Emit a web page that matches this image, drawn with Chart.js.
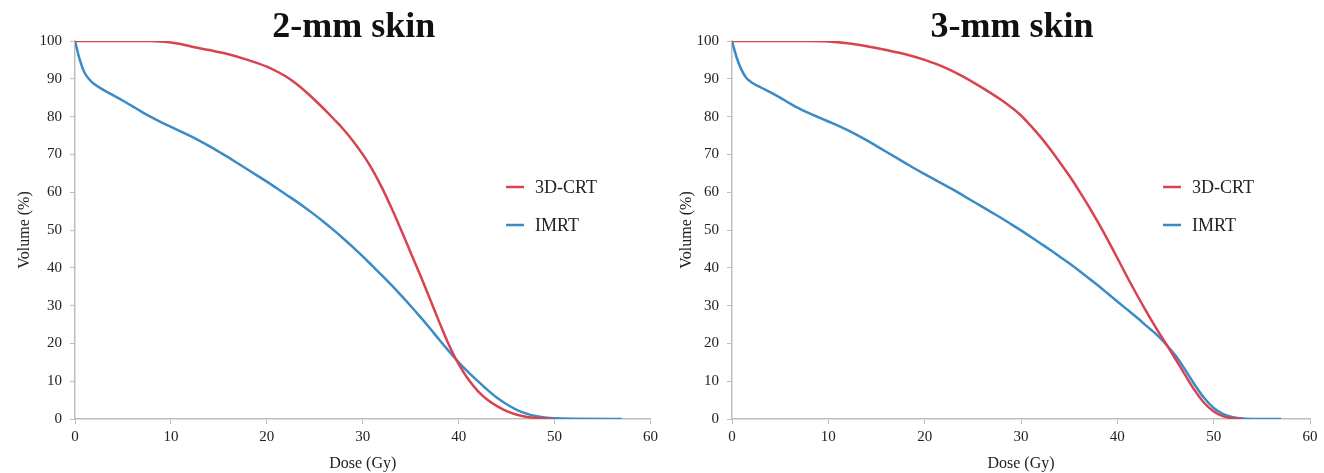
<!DOCTYPE html>
<html>
<head>
<meta charset="utf-8">
<script src="https://cdn.jsdelivr.net/npm/chart.js@4"></script>
<style>
  body { margin: 0; background: #fff; }
  .panel { position: absolute; top: 0; width: 662px; height: 473px; }
</style>
</head>
<body>
<div class="panel" style="left:0"><canvas id="skin2"></canvas></div>
<div class="panel" style="left:662px"><canvas id="skin3"></canvas></div>
<script>
// values (dose in Gy, volume in %)
var panelTitles = ['2-mm skin', '3-mm skin'];
var seriesNames = ['3D-CRT', 'IMRT'];

var dose2mmCrt = [0, 8, 10, 11, 12, 14, 16, 18, 20, 21, 22, 23, 24, 25, 26, 27, 28, 29, 30, 31, 32, 33, 34, 35, 36, 37, 38, 39, 40, 41, 42, 43, 44, 45, 46, 47, 48, 49, 50];
var vol2mmCrt  = [100, 100, 99.6, 99.2, 98.6, 97.6, 96.5, 95, 93.2, 92, 90.6, 88.8, 86.7, 84.4, 81.9, 79.3, 76.6, 73.5, 70, 66, 61.2, 55.8, 50, 44, 38, 31.8, 25.5, 19.5, 14.5, 10.5, 7.4, 5.1, 3.4, 2.1, 1.2, 0.6, 0.3, 0.1, 0];

var dose2mmImrt = [0, 0.5, 1, 1.5, 2, 3, 4, 5, 6, 7, 8, 9, 10, 11, 12, 13, 14, 15, 16, 17, 18, 19, 20, 21, 22, 23, 24, 25, 26, 27, 28, 29, 30, 31, 32, 33, 34, 35, 36, 37, 38, 39, 40, 41, 42, 43, 44, 45, 46, 47, 48, 49, 50, 52, 57];
var vol2mmImrt  = [100, 95, 91.6, 89.8, 88.6, 87, 85.6, 84.2, 82.7, 81.2, 79.8, 78.5, 77.3, 76.1, 74.9, 73.6, 72.2, 70.7, 69.2, 67.6, 66, 64.4, 62.8, 61.1, 59.4, 57.7, 55.9, 54, 52, 49.9, 47.7, 45.4, 43, 40.5, 38, 35.4, 32.7, 29.9, 27, 24, 20.9, 17.9, 15, 12.4, 10, 7.7, 5.6, 3.9, 2.5, 1.5, 0.8, 0.4, 0.2, 0.05, 0];

var dose3mmCrt = [0, 8, 10, 12, 14, 16, 18, 20, 22, 24, 26, 28, 30, 31, 32, 33, 34, 35, 36, 37, 38, 39, 40, 41, 42, 43, 44, 45, 46, 47, 48, 49, 50, 51, 52, 53];
var vol3mmCrt  = [100, 100, 99.9, 99.4, 98.6, 97.6, 96.5, 95, 93.1, 90.6, 87.6, 84.3, 80.3, 77.6, 74.7, 71.5, 68, 64.4, 60.5, 56.4, 52, 47.4, 42.6, 37.7, 33, 28.5, 24.2, 20.1, 16, 11.8, 7.7, 4.3, 2, 0.7, 0.2, 0.04];

var dose3mmImrt = [0, 0.5, 1, 1.5, 2, 3, 4, 5, 6, 7, 8, 9, 10, 11, 12, 13, 14, 15, 16, 17, 18, 19, 20, 21, 22, 23, 24, 25, 26, 27, 28, 29, 30, 31, 32, 33, 34, 35, 36, 37, 38, 39, 40, 41, 42, 43, 44, 45, 46, 47, 48, 49, 50, 51, 52, 53, 54, 57];
var vol3mmImrt  = [100, 95.5, 92.3, 90.2, 89.1, 87.7, 86.4, 85, 83.5, 82.1, 80.9, 79.8, 78.7, 77.6, 76.4, 75.1, 73.7, 72.2, 70.7, 69.2, 67.7, 66.2, 64.8, 63.4, 62, 60.6, 59.1, 57.6, 56.1, 54.6, 53.1, 51.5, 49.9, 48.2, 46.5, 44.8, 43, 41.2, 39.3, 37.3, 35.3, 33.2, 31.1, 29, 26.9, 24.7, 22.5, 19.9, 16.9, 13.2, 9.2, 5.6, 2.9, 1.3, 0.5, 0.12, 0.03, 0];

var RED = '#d8434f';
var BLUE = '#3b8bc6';
var SERIF = '"Liberation Serif", "Times New Roman", serif';

function toPoints(xs, ys) {
  return xs.map(function(x, i) { return {x: x, y: ys[i]}; });
}

// title above the plot + small legend inside the plot area
var panelDecor = {
  id: 'panelDecor',
  afterDraw: function(chart, args, opts) {
    var ctx = chart.ctx, a = chart.chartArea;
    ctx.save();
    ctx.fillStyle = '#111';
    ctx.font = 'bold 36px ' + SERIF;
    ctx.textAlign = 'center';
    ctx.textBaseline = 'alphabetic';
    ctx.fillText(opts.title, (a.left + a.right) / 2 - 9, 37);

    ctx.font = '18px ' + SERIF;
    ctx.textAlign = 'left';
    ctx.textBaseline = 'middle';
    chart.data.datasets.forEach(function(ds, i) {
      var y = 187 + i * 38;
      ctx.strokeStyle = ds.borderColor;
      ctx.lineWidth = 2.5;
      ctx.beginPath();
      ctx.moveTo(a.left + 431, y);
      ctx.lineTo(a.left + 449, y);
      ctx.stroke();
      ctx.fillStyle = '#222';
      ctx.fillText(ds.label, a.left + 460, y + 1);
    });
    ctx.restore();
  }
};

function makeChart(id, title, crt, imrt, yAxisWidth, padRight) {
  var ctx = document.getElementById(id).getContext('2d');
  return new Chart(ctx, {
    type: 'line',
    data: {
      datasets: [{
        label: seriesNames[0],
        data: crt,
        borderColor: RED,
        borderWidth: 2.5,
        pointRadius: 0,
        cubicInterpolationMode: 'monotone'
      }, {
        label: seriesNames[1],
        data: imrt,
        borderColor: BLUE,
        borderWidth: 2.5,
        pointRadius: 0,
        cubicInterpolationMode: 'monotone'
      }]
    },
    options: {
      responsive: true,
      maintainAspectRatio: false,
      animation: false,
      layout: { padding: { top: 41, right: padRight, left: 0, bottom: 0 } },
      plugins: {
        legend: { display: false },
        tooltip: { enabled: false },
        panelDecor: { title: title }
      },
      scales: {
        x: {
          type: 'linear',
          min: 0, max: 60,
          ticks: { stepSize: 10, color: '#222', padding: 4, font: { family: SERIF, size: 15 } },
          grid: { drawOnChartArea: false, tickLength: 5, color: '#bdbdbd' },
          border: { color: '#bdbdbd', width: 1.5 },
          title: { display: true, text: 'Dose (Gy)', color: '#222', padding: 0, font: { family: SERIF, size: 16 } },
          afterFit: function(scale) { scale.height = 54; }
        },
        y: {
          min: 0, max: 100,
          ticks: { stepSize: 10, color: '#222', padding: 8, font: { family: SERIF, size: 15 } },
          grid: { drawOnChartArea: false, tickLength: 5, color: '#bdbdbd' },
          border: { color: '#bdbdbd', width: 1.5 },
          title: { display: true, text: 'Volume (%)', color: '#222', padding: { top: 15, bottom: 0 }, font: { family: SERIF, size: 16 } },
          afterFit: function(scale) { scale.width = yAxisWidth; }
        }
      }
    },
    plugins: [panelDecor]
  });
}

makeChart('skin2', panelTitles[0], toPoints(dose2mmCrt, vol2mmCrt), toPoints(dose2mmImrt, vol2mmImrt), 75, 11);
makeChart('skin3', panelTitles[1], toPoints(dose3mmCrt, vol3mmCrt), toPoints(dose3mmImrt, vol3mmImrt), 70, 14);
</script>
</body>
</html>
